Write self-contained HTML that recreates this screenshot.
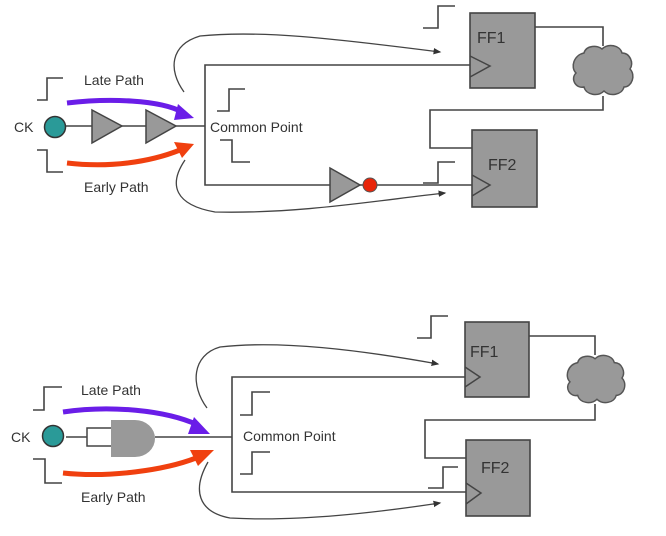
<!DOCTYPE html>
<html><head><meta charset="utf-8"><style>
html,body{margin:0;padding:0;background:#fff;}
svg{display:block;}
text{font-family:"Liberation Sans",Arial,sans-serif;fill:#333;}
</style></head><body>
<svg width="666" height="536" viewBox="0 0 666 536" xmlns="http://www.w3.org/2000/svg">
<defs>
<marker id="ah" markerWidth="6" markerHeight="6" refX="5" refY="3" orient="auto"><path d="M0,0.5 L6,3 L0,5.5 z" fill="#333"/></marker>
<marker id="dot" markerWidth="4" markerHeight="4" refX="2" refY="2"><circle cx="2" cy="2" r="1.6" fill="#333"/></marker>
<symbol id="cloud" viewBox="0 0 66 54" overflow="visible"><path d="M14,10 C16,2 28,2 32,6 C38,0 50,2 52,10 C60,10 64,20 60,26 C66,32 62,44 54,44 C52,52 40,54 34,48 C28,54 16,52 14,44 C6,46 0,36 6,30 C0,24 4,12 14,10 z" fill="#999" stroke="#555" stroke-width="1.5"/></symbol>
</defs>
<g stroke="#444" stroke-width="1.6" fill="none">
<!-- TOP -->
<line x1="66" y1="126" x2="205" y2="126"/>
<polyline points="470,65 205,65 205,185 472,185"/>
<path d="M37,100 H47 V78 H63"/>
<path d="M37,150 H47 V172 H63"/>
<path d="M217,111 H229 V89 H245"/>
<path d="M220,140 H232 V162 H250"/>
<path d="M423,28 H438 V6 H455"/>
<path d="M423,183 H438 V162 H455"/>
<path d="M184,92 C168,70 170,45 200,36 C260,30 330,38 440,52" marker-end="url(#ah)" stroke-width="1.3"/>
<path d="M185,160 C168,185 175,205 215,212 C300,214 380,200 445,193" marker-end="url(#ah)" stroke-width="1.3"/>
<polyline points="535,27 603,27 603,46"/>
<polyline points="603,96 603,110 430,110 430,148 472,148"/>
<!-- BOTTOM -->
<line x1="66" y1="437" x2="87" y2="437"/>
<line x1="155" y1="437" x2="232" y2="437"/>
<polyline points="465,377 232,377 232,492 466,492"/>
<path d="M33,410 H44 V387 H62"/>
<path d="M33,459 H45 V483 H62"/>
<path d="M240,415 H252 V392 H270"/>
<path d="M240,474 H252 V452 H270"/>
<path d="M417,338 H431 V316 H448"/>
<path d="M428,488 H443 V467 H458"/>
<path d="M207,408 C190,385 192,355 220,347 C280,340 360,350 438,364" marker-end="url(#ah)" stroke-width="1.3"/>
<path d="M208,462 C192,490 198,512 230,518 C300,522 380,512 440,503" marker-end="url(#ah)" stroke-width="1.3"/>
<polyline points="529,336 595,336 595,355"/>
<polyline points="595,404 595,420 425,420 425,458 466,458"/>
</g>
<!-- top components -->
<circle cx="55" cy="127" r="10.5" fill="#2a9a98" stroke="#333" stroke-width="1.5"/>
<polygon points="92,110 122,126 92,143" fill="#999" stroke="#444" stroke-width="1.5"/>
<polygon points="146,110 176,126 146,143" fill="#999" stroke="#444" stroke-width="1.5"/>
<polygon points="330,168 360,185 330,202" fill="#999" stroke="#444" stroke-width="1.5"/>
<circle cx="370" cy="185" r="7" fill="#e8250a" stroke="#555" stroke-width="1"/>
<rect x="470" y="13" width="65" height="75" fill="#999" stroke="#444" stroke-width="1.6"/>
<polyline points="470,56 490,66 470,77" fill="none" stroke="#444" stroke-width="1.5"/>
<rect x="472" y="130" width="65" height="77" fill="#999" stroke="#444" stroke-width="1.6"/>
<polyline points="472,175 490,185 472,196" fill="none" stroke="#444" stroke-width="1.5"/>
<use href="#cloud" x="570" y="43" width="66" height="54"/>
<path d="M67,103 C110,98 160,100 182,112" fill="none" stroke="#6a1de8" stroke-width="5"/>
<polygon points="178,104 194,118 174,120" fill="#6a1de8"/>
<path d="M67,163 C110,168 150,162 180,150" fill="none" stroke="#f0400f" stroke-width="5"/>
<polygon points="174,142 194,144 182,158" fill="#f0400f"/>
<text x="14" y="132" font-size="14">CK</text>
<text x="84" y="85" font-size="14">Late Path</text>
<text x="84" y="192" font-size="14">Early Path</text>
<text x="210" y="132" font-size="14">Common Point</text>
<text x="477" y="43" font-size="16">FF1</text>
<text x="488" y="170" font-size="16">FF2</text>
<!-- bottom components -->
<circle cx="53" cy="436" r="10.5" fill="#2a9a98" stroke="#333" stroke-width="1.5"/>
<rect x="87" y="428" width="25" height="18" fill="#fff" stroke="#444" stroke-width="1.5"/>
<path d="M111,420 H135 A20,18.5 0 0 1 135,457 H111 z" fill="#999"/>
<rect x="465" y="322" width="64" height="75" fill="#999" stroke="#444" stroke-width="1.6"/>
<polyline points="465,367 480,377 465,387" fill="none" stroke="#444" stroke-width="1.5"/>
<rect x="466" y="440" width="64" height="76" fill="#999" stroke="#444" stroke-width="1.6"/>
<polyline points="466,483 481,493 466,504" fill="none" stroke="#444" stroke-width="1.5"/>
<use href="#cloud" x="563" y="353" width="66" height="52"/>
<path d="M63,412 C110,405 165,410 198,425" fill="none" stroke="#6a1de8" stroke-width="5"/>
<polygon points="194,417 210,434 188,434" fill="#6a1de8"/>
<path d="M63,473 C110,478 165,470 196,458" fill="none" stroke="#f0400f" stroke-width="5"/>
<polygon points="190,450 214,450 198,466" fill="#f0400f"/>
<text x="11" y="442" font-size="14">CK</text>
<text x="81" y="395" font-size="14">Late Path</text>
<text x="81" y="502" font-size="14">Early Path</text>
<text x="243" y="441" font-size="14">Common Point</text>
<text x="470" y="357" font-size="16">FF1</text>
<text x="481" y="473" font-size="16">FF2</text>
</svg>
</body></html>
